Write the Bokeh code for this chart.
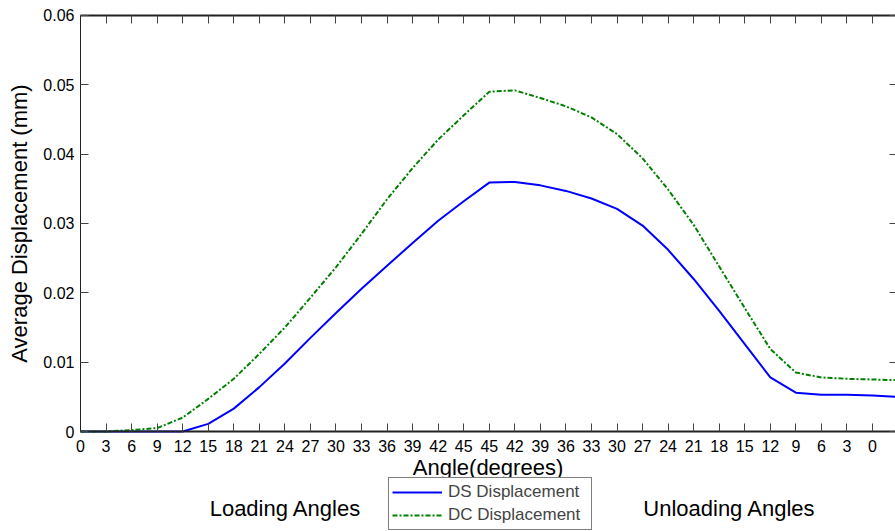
from bokeh.plotting import figure
from bokeh.models import (Range1d, FixedTicker, LinearAxis, Legend, LegendItem,
                          Label, CustomJSTickFormatter)
from bokeh.embed import file_html
from bokeh.resources import INLINE

# ---- data ----
angle_labels = ["0", "3", "6", "9", "12", "15", "18", "21", "24", "27", "30", "33",
                "36", "39", "42", "45", "45", "42", "39", "36", "33", "30", "27", "24",
                "21", "18", "15", "12", "9", "6", "3", "0"]
ds_disp = [0, 0, 0, 0, 0, 0.0011, 0.0033, 0.0064, 0.0098, 0.0135, 0.0171, 0.0206,
           0.0239, 0.0272, 0.0304, 0.0332, 0.0359, 0.0360, 0.0355, 0.0347, 0.0336,
           0.0321, 0.0297, 0.0262, 0.0220, 0.0174, 0.0126, 0.0078, 0.0056, 0.0053,
           0.0053, 0.0052, 0.0050]
dc_disp = [0, 0, 0.0002, 0.0005, 0.0020, 0.0047, 0.0076, 0.0112, 0.0150, 0.0193,
           0.0237, 0.0285, 0.0335, 0.0380, 0.0421, 0.0456, 0.0490, 0.0492, 0.0481,
           0.0469, 0.0453, 0.0429, 0.0394, 0.0349, 0.0298, 0.0238, 0.0178, 0.0119,
           0.0085, 0.0078, 0.0076, 0.0075, 0.0074]
y_ticks = [0, 0.01, 0.02, 0.03, 0.04, 0.05, 0.06]

x_ds = list(range(len(ds_disp)))
x_dc = list(range(len(dc_disp)))
x_ticks = list(range(len(angle_labels)))

FONT = "Liberation Sans"
AX = "#222222"
TK = "#444444"

# axes box spans x 0..X_END and y 0..Y_TOP; the ranges leave room around it
X_START, X_END = -3.131, 31.9
Y_MIN, Y_TOP, Y_MAX = -0.01442, 0.06, 0.06216

p = figure(width=895, height=531, output_backend="svg", toolbar_location=None,
           x_range=Range1d(X_START, X_END), y_range=Range1d(Y_MIN, Y_MAX),
           min_border_left=0, min_border_top=0, min_border_bottom=0,
           min_border_right=0)
p.outline_line_color = None
p.xgrid.visible = False
p.ygrid.visible = False
p.background_fill_color = "white"
p.border_fill_color = "white"

r1 = p.line(x_ds, ds_disp, line_color="#0000ff", line_width=2)
r2 = p.line(x_dc, dc_disp, line_color="#008000", line_width=2, line_dash="5 2 2 2")

blank = CustomJSTickFormatter(code="return '';")

# bottom axis, drawn at y = 0
xa = p.xaxis[0]
xa.fixed_location = 0
xa.bounds = (0, X_END)
xa.ticker = FixedTicker(ticks=x_ticks)
xa.major_label_overrides = {i: lab for i, lab in enumerate(angle_labels)}
xa.major_tick_in = 8
xa.major_tick_out = 0
xa.minor_tick_line_color = None
xa.axis_line_width = 2
xa.axis_line_color = AX
xa.major_tick_line_color = TK
xa.major_label_text_font = FONT
xa.major_label_text_font_size = "16px"
xa.major_label_text_color = "black"
xa.major_label_standoff = 8
xa.axis_label = "Angle(degrees)"
xa.axis_label_text_font = FONT
xa.axis_label_text_font_size = "22px"
xa.axis_label_text_font_style = "normal"
xa.axis_label_text_color = "black"
xa.axis_label_standoff = 0

# left axis, drawn at x = 0
ya = p.yaxis[0]
ya.fixed_location = 0
ya.bounds = (0, Y_TOP)
ya.ticker = FixedTicker(ticks=y_ticks)
ya.formatter = CustomJSTickFormatter(code="return tick == 0 ? '0' : tick.toFixed(2);")
ya.major_tick_in = 8
ya.major_tick_out = 0
ya.minor_tick_line_color = None
ya.axis_line_color = AX
ya.major_tick_line_color = TK
ya.major_label_text_font = FONT
ya.major_label_text_font_size = "16px"
ya.major_label_text_color = "black"
ya.major_label_standoff = 6
ya.axis_label = "Average Displacement (mm)"
ya.axis_label_text_font = FONT
ya.axis_label_text_font_size = "22px"
ya.axis_label_text_font_style = "normal"
ya.axis_label_text_color = "black"
ya.axis_label_standoff = 8

# top axis (ticks only)
top = LinearAxis(ticker=FixedTicker(ticks=x_ticks), formatter=blank,
                 fixed_location=Y_TOP, bounds=(0, X_END),
                 major_tick_in=8, major_tick_out=0, minor_tick_line_color=None,
                 axis_line_width=2, axis_line_color=AX, major_tick_line_color=TK,
                 major_label_standoff=0, major_label_text_font_size="12px")
p.add_layout(top, "above")

# right axis (ticks only)
right = LinearAxis(ticker=FixedTicker(ticks=y_ticks), formatter=blank,
                   fixed_location=X_END, bounds=(0, Y_TOP),
                   major_tick_in=6, major_tick_out=0, minor_tick_line_color=None,
                   axis_line_color=None, major_tick_line_color=TK,
                   major_label_standoff=0, major_label_text_font_size="12px")
p.add_layout(right, "right")

legend = Legend(items=[LegendItem(label="DS Displacement", renderers=[r1]),
                       LegendItem(label="DC Displacement", renderers=[r2])],
                location=(388, 1), label_text_font=FONT, label_text_font_size="17px",
                glyph_width=50, glyph_height=22, label_height=22, label_width=140,
                spacing=1, padding=3, margin=0, label_standoff=6,
                border_line_color="black", border_line_width=1,
                background_fill_color="white", background_fill_alpha=1)
p.add_layout(legend)

for txt, xs in (("Loading Angles", 285), ("Unloading Angles", 729)):
    p.add_layout(Label(x=xs, y=23, x_units="screen", y_units="screen", text=txt,
                       text_align="center", text_baseline="alphabetic",
                       text_font=FONT, text_font_size="22px", text_color="black"))

open("out.html", "w").write(file_html(p, INLINE))
